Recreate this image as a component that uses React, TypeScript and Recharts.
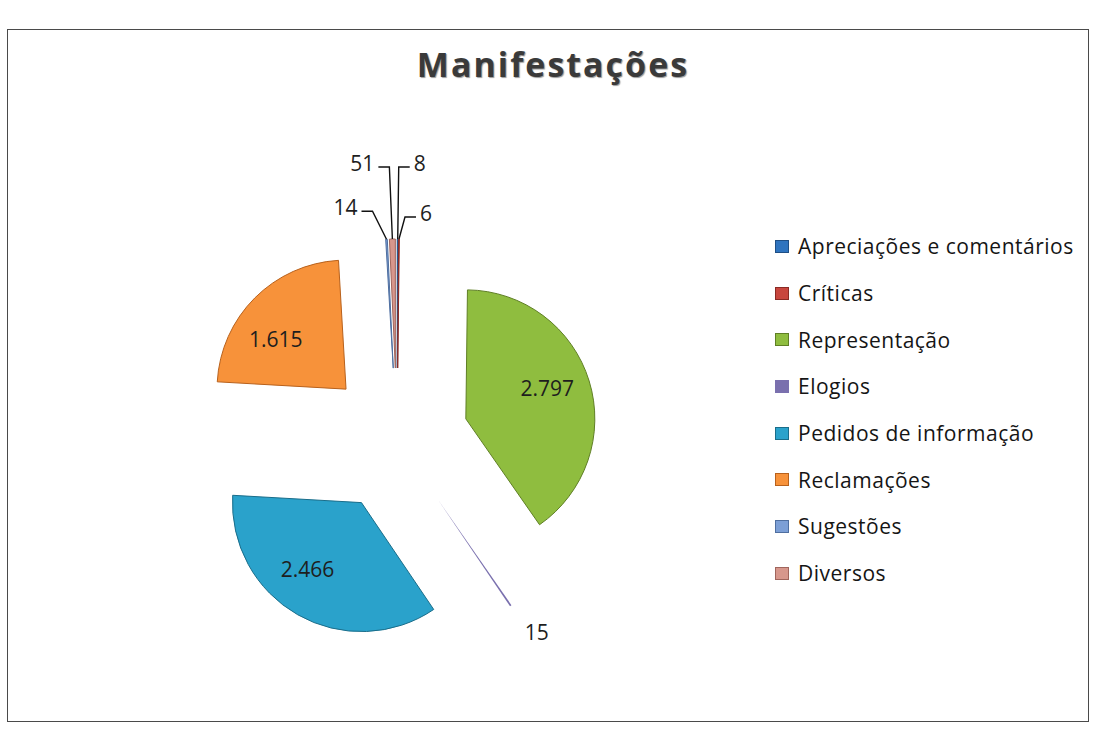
import React from "react";
import { PieChart, Pie, Cell, Legend } from "recharts";

const categories = [
  "Apreciações e comentários",
  "Críticas",
  "Representação",
  "Elogios",
  "Pedidos de informação",
  "Reclamações",
  "Sugestões",
  "Diversos",
];
const values = [8, 6, 2797, 15, 2466, 1615, 14, 51];
const colors = ["#2f74bf", "#c8463e", "#8fbd3f", "#7a70ae", "#2aa2cb", "#f7923a", "#7c9fd6", "#d7978c"];
const strokes = ["#1f4f85", "#8a2a24", "#5f7f25", "#7a70ae", "#1a6d8a", "#b8611c", "#4f6fa0", "#a0655c"];
const title = "Manifestações";

// layout constants (not data); chart margin is 5px so centre is (397, 440) on the page
const CX = 392;
const CY = 435;
const R = 129;
const EXPLODE = 72;
const FONT = "'Open Sans', 'DejaVu Sans', sans-serif";
const RAD = Math.PI / 180;

// label layout for slices too thin to hold a label: elbow offset from slice tip, side of text
const SMALL_LABELS: Record<number, { dx: number; dy: number; side: number }> = {
  0: { dx: 1, dy: -72, side: 1 },
  1: { dx: 6, dy: -22, side: 1 },
  3: { dx: 26, dy: 26, side: 0 },
  6: { dx: -14, dy: -28, side: -1 },
  7: { dx: -3, dy: -72, side: -1 },
};
// small nudges for the inside labels of the large slices
const INSIDE_NUDGE: Record<number, { dx: number; dy: number }> = {
  2: { dx: 0, dy: -6 },
  4: { dx: -12, dy: -8 },
  5: { dx: -10, dy: 10 },
};

const data = categories.map((name, i) => ({ name, value: values[i] }));
const total = values.reduce((a, b) => a + b, 0);

const fmt = (v: number) => String(v).replace(/\B(?=(\d{3})+(?!\d))/g, ".");

// mid-angle of each slice in Recharts convention (deg CCW from 3 o'clock), clockwise from 12
const midAngles = values.map((v, i) => {
  const before = values.slice(0, i).reduce((a, b) => a + b, 0);
  return 90 - ((before + v / 2) / total) * 360;
});

const renderLabel = (idx: number) => (props: any) => {
  if (props.index !== idx) return null;
  const { cx, cy, midAngle, outerRadius, value } = props;
  const cos = Math.cos(-midAngle * RAD);
  const sin = Math.sin(-midAngle * RAD);
  const small = SMALL_LABELS[idx];
  if (!small) {
    const n = INSIDE_NUDGE[idx] || { dx: 0, dy: 0 };
    const x = cx + outerRadius * 0.66 * cos + n.dx;
    const y = cy + outerRadius * 0.66 * sin + n.dy;
    return (
      <text x={x} y={y} textAnchor="middle" dominantBaseline="central" fontFamily={FONT} fontSize={21} fill="#1e1e1e">
        {fmt(value)}
      </text>
    );
  }
  const px = cx + outerRadius * cos;
  const py = cy + outerRadius * sin;
  const ex = px + small.dx;
  const ey = py + small.dy;
  if (small.side === 0) {
    return (
      <text x={ex} y={ey} textAnchor="middle" dominantBaseline="central" fontFamily={FONT} fontSize={21} fill="#1e1e1e">
        {fmt(value)}
      </text>
    );
  }
  const hx = ex + small.side * 11;
  return (
    <g>
      <polyline points={`${px},${py} ${ex},${ey} ${hx},${ey}`} fill="none" stroke="#111" strokeWidth={1.4} />
      <text
        x={hx + small.side * 4}
        y={ey - 4}
        textAnchor={small.side > 0 ? "start" : "end"}
        dominantBaseline="central"
        fontFamily={FONT}
        fontSize={21}
        fill="#1e1e1e"
      >
        {fmt(value)}
      </text>
    </g>
  );
};

const LegendContent = () => (
  <div style={{ fontFamily: FONT, fontSize: 21, letterSpacing: 0.5, color: "#151515" }}>
    {categories.map((c, i) => (
      <div key={c} style={{ display: "flex", alignItems: "center", height: 46.7 }}>
        <span
          style={{
            display: "inline-block",
            width: 12,
            height: 11,
            background: colors[i],
            border: `1px solid ${strokes[i]}`,
            marginRight: 9,
          }}
        />
        <span>{c}</span>
      </div>
    ))}
  </div>
);

export default function App() {
  return (
    <div style={{ position: "absolute", left: 0, top: 0, width: 1096, height: 737, background: "#fff" }}>
      <div
        style={{
          position: "absolute",
          left: 7,
          top: 29,
          width: 1082,
          height: 693,
          border: "1.5px solid #4a4a4a",
          boxSizing: "border-box",
        }}
      />
      <div
        style={{
          position: "absolute",
          left: 0,
          top: 41,
          width: 1106,
          textAlign: "center",
          fontFamily: FONT,
          fontWeight: 700,
          fontSize: 34,
          letterSpacing: 2,
          color: "#3a3a3a",
          textShadow: "1px 1px 1px #9a9a9a",
        }}
      >
        {title}
      </div>
      <PieChart width={1096} height={737} style={{ position: "absolute", left: 0, top: 0 }}>
        {values.map((_, k) => (
          <Pie
            key={k}
            data={data}
            dataKey="value"
            nameKey="name"
            cx={CX + EXPLODE * Math.cos(midAngles[k] * RAD)}
            cy={CY - EXPLODE * Math.sin(midAngles[k] * RAD)}
            outerRadius={R}
            startAngle={90}
            endAngle={-270}
            isAnimationActive={false}
            label={renderLabel(k)}
            labelLine={false}
          >
            {data.map((d, i) => (
              <Cell
                key={d.name}
                fill={i === k ? colors[i] : "none"}
                stroke={i === k && i !== 3 ? strokes[i] : "none"}
                strokeWidth={i === k && i !== 3 ? 1 : 0}
              />
            ))}
          </Pie>
        ))}
        <Legend
          layout="vertical"
          align="right"
          verticalAlign="top"
          content={LegendContent}
          wrapperStyle={{ left: 775, top: 223, width: 320 }}
        />
      </PieChart>
    </div>
  );
}
